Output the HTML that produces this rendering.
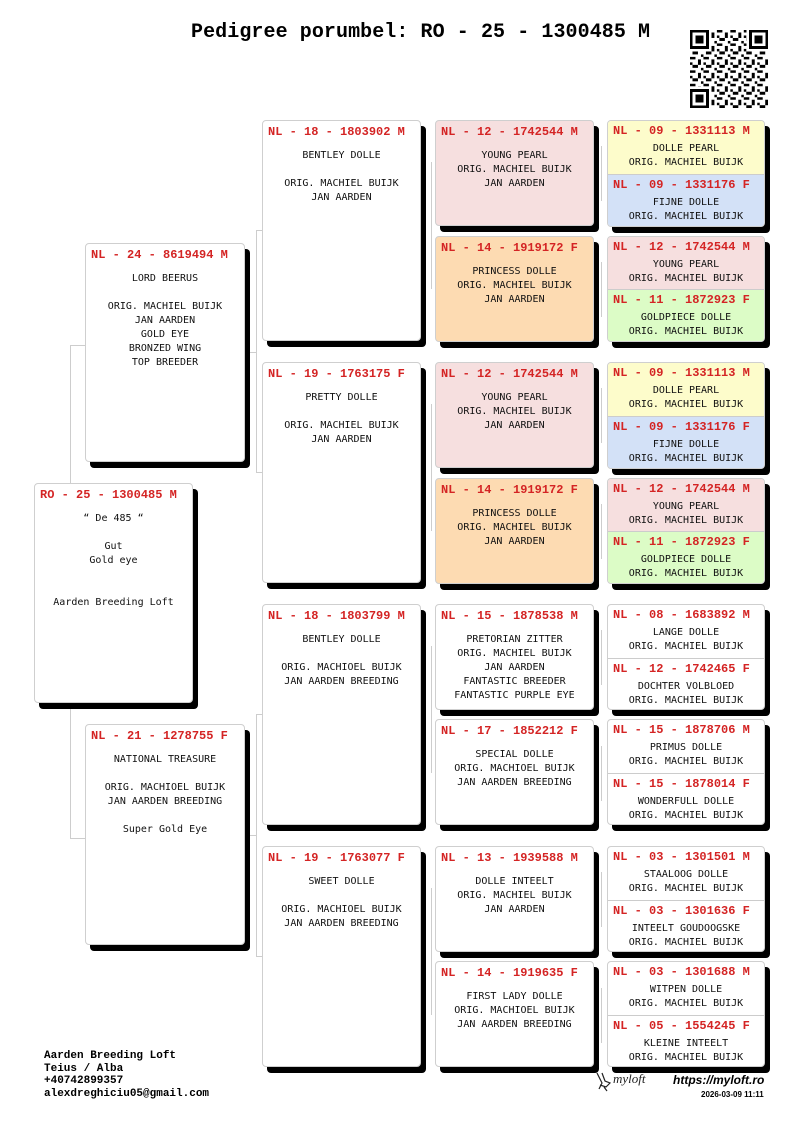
<!DOCTYPE html>
<html><head><meta charset="utf-8"><style>
*{margin:0;padding:0;box-sizing:border-box}
body{width:800px;height:1131px;background:#fff;position:relative;overflow:hidden;font-family:"DejaVu Sans Mono","Liberation Mono",monospace}
.b{position:absolute;border:1px solid #cfcfcf;border-radius:4px;background:#fff;box-shadow:5px 6px 0 #000;overflow:hidden}
.h{font-family:"Liberation Mono",monospace;font-weight:bold;color:#d42424;font-size:12px;line-height:22px;padding-left:5px;white-space:pre}
.t{font-size:10px;line-height:14px;text-align:center;color:#111;white-space:pre;margin-top:6px}
.half{position:absolute;left:0;right:0}
.half .h{line-height:20px}
.half .t{margin-top:1px}
.ln{position:absolute;background:#cdcdcd}
.title{position:absolute;left:191px;top:21px;font-family:"Liberation Mono",monospace;font-weight:bold;font-size:20px;white-space:pre;letter-spacing:0.08px}
.foot{position:absolute;left:44px;top:1050px;font-family:"Liberation Mono",monospace;font-weight:bold;font-size:11px;line-height:12.7px;white-space:pre}
</style></head><body>
<div class="title">Pedigree porumbel: RO - 25 - 1300485 M</div>
<svg style="position:absolute;left:690px;top:30px" width="78" height="78" viewBox="0 0 29 29" shape-rendering="crispEdges">
<defs><pattern id="p" width="5" height="5" patternUnits="userSpaceOnUse"><rect x="0" y="0" width="2" height="1"/><rect x="3" y="1" width="1" height="2"/><rect x="1" y="3" width="2" height="1"/><rect x="4" y="4" width="1" height="1"/><rect x="0" y="2" width="1" height="1"/></pattern></defs>
<rect width="29" height="29" fill="url(#p)"/>
<g fill="#fff"><rect x="0" y="0" width="8" height="8"/><rect x="21" y="0" width="8" height="8"/><rect x="0" y="21" width="8" height="8"/></g>
<g fill="none" stroke="#000"><rect x="0.5" y="0.5" width="6" height="6"/><rect x="22.5" y="0.5" width="6" height="6"/><rect x="0.5" y="22.5" width="6" height="6"/></g>
<rect x="2" y="2" width="3" height="3"/><rect x="24" y="2" width="3" height="3"/><rect x="2" y="24" width="3" height="3"/>
</svg>

<!-- connectors -->
<div class="ln" style="left:70px;top:345px;width:1px;height:493px"></div>
<div class="ln" style="left:70px;top:345px;width:15px;height:1px"></div>
<div class="ln" style="left:70px;top:838px;width:15px;height:1px"></div>
<div class="ln" style="left:256px;top:230px;width:1px;height:242px"></div>
<div class="ln" style="left:245px;top:352px;width:11px;height:1px"></div>
<div class="ln" style="left:256px;top:230px;width:6px;height:1px"></div>
<div class="ln" style="left:256px;top:472px;width:6px;height:1px"></div>
<div class="ln" style="left:256px;top:714px;width:1px;height:242px"></div>
<div class="ln" style="left:245px;top:835px;width:11px;height:1px"></div>
<div class="ln" style="left:256px;top:714px;width:6px;height:1px"></div>
<div class="ln" style="left:256px;top:956px;width:6px;height:1px"></div>
<div class="ln" style="left:431px;top:162px;width:1px;height:127px"></div>
<div class="ln" style="left:431px;top:404px;width:1px;height:127px"></div>
<div class="ln" style="left:431px;top:646px;width:1px;height:127px"></div>
<div class="ln" style="left:431px;top:888px;width:1px;height:127px"></div>
<div class="ln" style="left:601px;top:146px;width:1px;height:55px"></div>
<div class="ln" style="left:601px;top:262px;width:1px;height:55px"></div>
<div class="ln" style="left:601px;top:388px;width:1px;height:55px"></div>
<div class="ln" style="left:601px;top:504px;width:1px;height:55px"></div>
<div class="ln" style="left:601px;top:630px;width:1px;height:55px"></div>
<div class="ln" style="left:601px;top:746px;width:1px;height:55px"></div>
<div class="ln" style="left:601px;top:872px;width:1px;height:55px"></div>
<div class="ln" style="left:601px;top:988px;width:1px;height:55px"></div>

<!-- gen0 -->
<div class="b" style="left:34px;top:483px;width:159px;height:220px"><div class="h">RO - 25 - 1300485 M</div><div class="t">“ De 485 “

Gut
Gold eye


Aarden Breeding Loft</div></div>

<!-- gen1 -->
<div class="b" style="left:85px;top:243px;width:160px;height:219px"><div class="h">NL - 24 - 8619494 M</div><div class="t">LORD BEERUS

ORIG. MACHIEL BUIJK
JAN AARDEN
GOLD EYE
BRONZED WING
TOP BREEDER</div></div>
<div class="b" style="left:85px;top:724px;width:160px;height:221px"><div class="h">NL - 21 - 1278755 F</div><div class="t">NATIONAL TREASURE

ORIG. MACHIOEL BUIJK
JAN AARDEN BREEDING

Super Gold Eye</div></div>

<!-- gen2 -->
<div class="b" style="left:262px;top:120px;width:159px;height:221px"><div class="h">NL - 18 - 1803902 M</div><div class="t">BENTLEY DOLLE

ORIG. MACHIEL BUIJK
JAN AARDEN</div></div>
<div class="b" style="left:262px;top:362px;width:159px;height:221px"><div class="h">NL - 19 - 1763175 F</div><div class="t">PRETTY DOLLE

ORIG. MACHIEL BUIJK
JAN AARDEN</div></div>
<div class="b" style="left:262px;top:604px;width:159px;height:221px"><div class="h">NL - 18 - 1803799 M</div><div class="t">BENTLEY DOLLE

ORIG. MACHIOEL BUIJK
JAN AARDEN BREEDING</div></div>
<div class="b" style="left:262px;top:846px;width:159px;height:221px"><div class="h">NL - 19 - 1763077 F</div><div class="t">SWEET DOLLE

ORIG. MACHIOEL BUIJK
JAN AARDEN BREEDING</div></div>

<!-- gen3 -->
<div class="b" style="left:435px;top:120px;width:159px;height:106px;background:#f6dfdf"><div class="h">NL - 12 - 1742544 M</div><div class="t">YOUNG PEARL
ORIG. MACHIEL BUIJK
JAN AARDEN</div></div>
<div class="b" style="left:435px;top:236px;width:159px;height:106px;background:#fddbb2"><div class="h">NL - 14 - 1919172 F</div><div class="t">PRINCESS DOLLE
ORIG. MACHIEL BUIJK
JAN AARDEN</div></div>
<div class="b" style="left:435px;top:362px;width:159px;height:106px;background:#f6dfdf"><div class="h">NL - 12 - 1742544 M</div><div class="t">YOUNG PEARL
ORIG. MACHIEL BUIJK
JAN AARDEN</div></div>
<div class="b" style="left:435px;top:478px;width:159px;height:106px;background:#fddbb2"><div class="h">NL - 14 - 1919172 F</div><div class="t">PRINCESS DOLLE
ORIG. MACHIEL BUIJK
JAN AARDEN</div></div>
<div class="b" style="left:435px;top:604px;width:159px;height:106px"><div class="h">NL - 15 - 1878538 M</div><div class="t">PRETORIAN ZITTER
ORIG. MACHIEL BUIJK
JAN AARDEN
FANTASTIC BREEDER
FANTASTIC PURPLE EYE</div></div>
<div class="b" style="left:435px;top:719px;width:159px;height:106px"><div class="h">NL - 17 - 1852212 F</div><div class="t">SPECIAL DOLLE
ORIG. MACHIOEL BUIJK
JAN AARDEN BREEDING</div></div>
<div class="b" style="left:435px;top:846px;width:159px;height:106px"><div class="h">NL - 13 - 1939588 M</div><div class="t">DOLLE INTEELT
ORIG. MACHIEL BUIJK
JAN AARDEN</div></div>
<div class="b" style="left:435px;top:961px;width:159px;height:106px"><div class="h">NL - 14 - 1919635 F</div><div class="t">FIRST LADY DOLLE
ORIG. MACHIOEL BUIJK
JAN AARDEN BREEDING</div></div>

<!-- gen4 -->
<div class="b" style="left:607px;top:120px;width:158px;height:107px">
<div class="half" style="top:0;height:53px;background:#fdfccb"><div class="h">NL - 09 - 1331113 M</div><div class="t">DOLLE PEARL
ORIG. MACHIEL BUIJK</div></div>
<div class="half" style="top:53px;height:54px;background:#d3e1f7;border-top:1px solid #ccc"><div class="h">NL - 09 - 1331176 F</div><div class="t">FIJNE DOLLE
ORIG. MACHIEL BUIJK</div></div></div>
<div class="b" style="left:607px;top:236px;width:158px;height:106px">
<div class="half" style="top:0;height:52px;background:#f6dfdf"><div class="h">NL - 12 - 1742544 M</div><div class="t">YOUNG PEARL
ORIG. MACHIEL BUIJK</div></div>
<div class="half" style="top:52px;height:54px;background:#dcfcc6;border-top:1px solid #ccc"><div class="h">NL - 11 - 1872923 F</div><div class="t">GOLDPIECE DOLLE
ORIG. MACHIEL BUIJK</div></div></div>
<div class="b" style="left:607px;top:362px;width:158px;height:107px">
<div class="half" style="top:0;height:53px;background:#fdfccb"><div class="h">NL - 09 - 1331113 M</div><div class="t">DOLLE PEARL
ORIG. MACHIEL BUIJK</div></div>
<div class="half" style="top:53px;height:54px;background:#d3e1f7;border-top:1px solid #ccc"><div class="h">NL - 09 - 1331176 F</div><div class="t">FIJNE DOLLE
ORIG. MACHIEL BUIJK</div></div></div>
<div class="b" style="left:607px;top:478px;width:158px;height:106px">
<div class="half" style="top:0;height:52px;background:#f6dfdf"><div class="h">NL - 12 - 1742544 M</div><div class="t">YOUNG PEARL
ORIG. MACHIEL BUIJK</div></div>
<div class="half" style="top:52px;height:54px;background:#dcfcc6;border-top:1px solid #ccc"><div class="h">NL - 11 - 1872923 F</div><div class="t">GOLDPIECE DOLLE
ORIG. MACHIEL BUIJK</div></div></div>
<div class="b" style="left:607px;top:604px;width:158px;height:106px">
<div class="half" style="top:0;height:53px"><div class="h">NL - 08 - 1683892 M</div><div class="t">LANGE DOLLE
ORIG. MACHIEL BUIJK</div></div>
<div class="half" style="top:53px;height:53px;border-top:1px solid #ccc"><div class="h">NL - 12 - 1742465 F</div><div class="t">DOCHTER VOLBLOED
ORIG. MACHIEL BUIJK</div></div></div>
<div class="b" style="left:607px;top:719px;width:158px;height:106px">
<div class="half" style="top:0;height:53px"><div class="h">NL - 15 - 1878706 M</div><div class="t">PRIMUS DOLLE
ORIG. MACHIEL BUIJK</div></div>
<div class="half" style="top:53px;height:53px;border-top:1px solid #ccc"><div class="h">NL - 15 - 1878014 F</div><div class="t">WONDERFULL DOLLE
ORIG. MACHIEL BUIJK</div></div></div>
<div class="b" style="left:607px;top:846px;width:158px;height:106px">
<div class="half" style="top:0;height:53px"><div class="h">NL - 03 - 1301501 M</div><div class="t">STAALOOG DOLLE
ORIG. MACHIEL BUIJK</div></div>
<div class="half" style="top:53px;height:53px;border-top:1px solid #ccc"><div class="h">NL - 03 - 1301636 F</div><div class="t">INTEELT GOUDOOGSKE
ORIG. MACHIEL BUIJK</div></div></div>
<div class="b" style="left:607px;top:961px;width:158px;height:106px">
<div class="half" style="top:0;height:53px"><div class="h">NL - 03 - 1301688 M</div><div class="t">WITPEN DOLLE
ORIG. MACHIEL BUIJK</div></div>
<div class="half" style="top:53px;height:53px;border-top:1px solid #ccc"><div class="h">NL - 05 - 1554245 F</div><div class="t">KLEINE INTEELT
ORIG. MACHIEL BUIJK</div></div></div>

<div class="foot">Aarden Breeding Loft
Teius / Alba
+40742899357
alexdreghiciu05@gmail.com</div>

<svg style="position:absolute;left:594px;top:1071px" width="20" height="22" viewBox="0 0 20 22"><path d="M3 2 L8 12 L5 18 M8 2 L11 10 L16 12 L12 16 L6 14 M10 16 L13 20" fill="none" stroke="#222" stroke-width="1.2"/></svg>
<div style="position:absolute;left:613px;top:1071px;font-family:'Liberation Serif',serif;font-style:italic;font-size:13px;color:#222">myloft</div>
<div style="position:absolute;left:673px;top:1073px;font-family:'Liberation Sans',sans-serif;font-weight:bold;font-style:italic;font-size:12px">https://myloft.ro</div>
<div style="position:absolute;left:701px;top:1090px;font-family:'Liberation Sans',sans-serif;font-weight:bold;font-size:8px">2026-03-09 11:11</div>
</body></html>
